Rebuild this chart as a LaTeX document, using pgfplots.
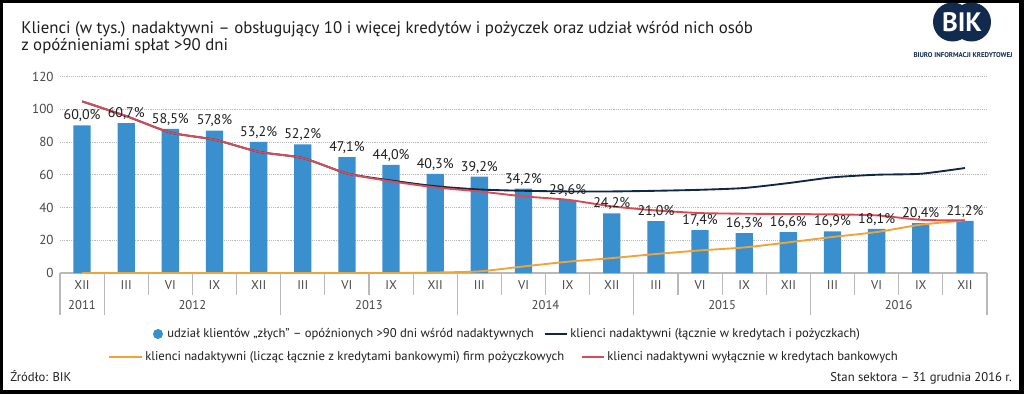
\documentclass[border=0pt]{standalone}
\usepackage{pgfplots}
\usepackage{pgfplotstable}
\pgfplotsset{compat=1.18}
\usepackage{fontspec}
\setmainfont{PT Sans}
\definecolor{barblue}{RGB}{58,143,206}
\definecolor{navy}{RGB}{17,39,68}
\definecolor{redl}{RGB}{216,74,84}
\definecolor{orangel}{RGB}{241,163,55}
\definecolor{txt}{RGB}{30,30,30}
\definecolor{lab}{RGB}{70,70,70}
\definecolor{sep}{RGB}{185,185,185}
\definecolor{logo}{RGB}{18,42,78}

\pgfplotstableread{
x bad label
0 90.1 60,0\%
1 91.5 60,7\%
2 88.0 58,5\%
3 87.0 57,8\%
4 80.0 53,2\%
5 78.5 52,2\%
6 70.8 47,1\%
7 66.0 44,0\%
8 60.6 40,3\%
9 58.8 39,2\%
10 51.5 34,2\%
11 44.7 29,6\%
12 36.4 24,2\%
13 31.7 21,0\%
14 26.2 17,4\%
15 24.4 16,3\%
16 25.0 16,6\%
17 25.4 16,9\%
18 27.0 18,1\%
19 30.5 20,4\%
20 31.9 21,2\%
}\bars

\pgfplotstableread{
x red navy orange
0 104.8 104.8 0
1 95.8 95.8 0
2 85.8 85.8 0
3 81.4 81.4 0
4 74.0 74.0 0
5 70.2 70.2 0
6 60.8 60.8 0
7 56.0 56.5 0
8 52.3 53.0 0.3
9 49.8 51.0 1.0
10 46.8 50.2 4.0
11 44.7 49.8 6.9
12 40.7 49.8 9.1
13 38.2 50.2 11.6
14 36.6 50.8 13.8
15 36.2 51.9 15.6
16 36.0 54.9 18.7
17 35.8 58.4 22.0
18 35.2 60.0 25.0
19 32.5 60.6 29.5
20 32.1 64.1 32.1
}\lines

\begin{document}
\begin{tikzpicture}
\begin{scope}[x=0.75pt,y=0.75pt]
\useasboundingbox (0,0) rectangle (1024,394);
\fill[black] (0,0) rectangle (1024,394);
\fill[white] (3,4) rectangle (1019,391);

% title
\node[anchor=base west, inner sep=0, text=txt, font=\fontsize{12.6}{14}\selectfont] at (21,361) {Klienci (w tys.) nadaktywni – obsługujący 10 i więcej kredytów i pożyczek oraz udział wśród nich osób};
\node[anchor=base west, inner sep=0, text=txt, font=\fontsize{12.6}{14}\selectfont] at (21,344) {z opóźnieniami spłat >90 dni};

% logo
\fill[logo] (952.5,372) circle (19.5);
\fill[logo] (971.5,372) circle (19.5);
\node[text=white, font=\fontsize{20}{20}\selectfont\bfseries, inner sep=0] at (962,372) {BIK};
\node[text=logo, font=\fontsize{5.2}{6}\selectfont\bfseries, inner sep=0] at (963,339) {BIURO INFORMACJI KREDYTOWEJ};
\end{scope}

\begin{axis}[
  at={(45pt,90.75pt)}, anchor=south west, scale only axis,
  width=695.25pt, height=147.4pt,
  xmin=-0.5, xmax=20.5, ymin=0, ymax=120,
  axis x line*=bottom, axis y line*=left,
  x axis line style={draw=sep, line width=0.8pt, -},
  y axis line style={draw=none},
  major tick length=0pt,
  ytick={0,20,...,120},
  ymajorgrids, grid style={densely dotted, draw=sep, line width=0.6pt},
  xtick={0,...,20},
  xticklabels={XII,III,VI,IX,XII,III,VI,IX,XII,III,VI,IX,XII,III,VI,IX,XII,III,VI,IX,XII},
  xticklabel style={anchor=center, yshift=-9pt, text=lab, font=\fontsize{9.5}{10}\selectfont},
  yticklabel style={xshift=-1.3pt, text=lab, font=\fontsize{9.8}{10}\selectfont},
  /pgf/number format/assume math mode=true,
  clip=false,
]
\addplot[ybar, bar width=13pt, fill=barblue, draw=none,
  nodes near coords, point meta=explicit symbolic,
  nodes near coords style={text=txt, font=\fontsize{10.5}{12}\selectfont, anchor=south, inner sep=2.4pt}]
  table[x=x, y=bad, meta=label] {\bars};
\addplot[orangel, line width=1.4pt, smooth, tension=0.4, no markers] table[x=x, y=orange] {\lines};
\addplot[navy, line width=1.4pt, smooth, tension=0.4, no markers] table[x=x, y=navy] {\lines};
\addplot[redl, line width=1.4pt, smooth, tension=0.4, no markers] table[x=x, y=red] {\lines};
\end{axis}

\begin{scope}[x=0.75pt,y=0.75pt]
% x separators
\foreach \i in {0,...,21} \draw[sep, line width=0.8pt] (60+44.143*\i,121) -- (60+44.143*\i,99);
\foreach \i in {0,1,5,9,13,17,21} \draw[sep, line width=0.8pt] (60+44.143*\i,99) -- (60+44.143*\i,79);
\foreach \xx/\yy in {82/2011, 192.4/2012, 368.9/2013, 545.5/2014, 722.1/2015, 898.6/2016}
  \node[text=lab, font=\fontsize{9.5}{10}\selectfont] at (\xx,89) {\yy};

% legend
\fill[barblue] (158,60) circle (5);
\node[anchor=west, inner sep=0, text=txt, font=\fontsize{9.5}{11}\selectfont] at (167,60) {udział klientów „złych” – opóźnionych >90 dni wśród nadaktywnych};
\draw[navy, line width=1.4pt] (545,60) -- (567,60);
\node[anchor=west, inner sep=0, text=txt, font=\fontsize{9.5}{11}\selectfont] at (570,60) {klienci nadaktywni (łącznie w kredytach i pożyczkach)};
\draw[orangel, line width=1.4pt] (109,37) -- (142,37);
\node[anchor=west, inner sep=0, text=txt, font=\fontsize{9.5}{11}\selectfont] at (145,37) {klienci nadaktywni (licząc łącznie z kredytami bankowymi) firm pożyczkowych};
\draw[redl, line width=1.4pt] (582,37) -- (604,37);
\node[anchor=west, inner sep=0, text=txt, font=\fontsize{9.5}{11}\selectfont] at (607,37) {klienci nadaktywni wyłącznie w kredytach bankowych};

% footer
\node[anchor=base west, inner sep=0, text=txt, font=\fontsize{9.5}{11}\selectfont] at (10,12.5) {Źródło: BIK};
\node[anchor=base east, inner sep=0, text=txt, font=\fontsize{9.5}{11}\selectfont] at (1012,12.5) {Stan sektora – 31 grudnia 2016 r.};
\end{scope}
\end{tikzpicture}
\end{document}
